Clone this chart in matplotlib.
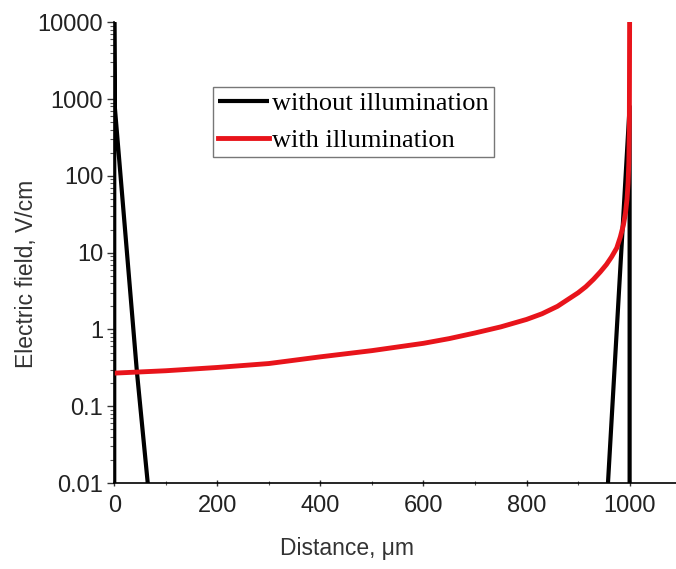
import matplotlib.pyplot as plt
import numpy as np
from matplotlib.ticker import FixedLocator, LogLocator, NullFormatter

# without illumination: two boundary spikes (NaN breaks the line)
dist_dark = [0, 0, 1, 44, 65, np.nan, 958, 1000, 1000]
field_dark = [0.001, 10000, 800, 0.28, 0.01, np.nan, 0.01, 800, 0.001]

# with illumination
dist_light = [0, 100, 200, 300, 400, 500, 600, 650, 700, 750, 800, 830, 860,
              880, 900, 915, 930, 943, 955, 965, 975, 982, 988, 992, 995,
              997, 998.5, 999.5, 1000]
field_light = [0.27, 0.29, 0.32, 0.36, 0.44, 0.53, 0.66, 0.76, 0.9, 1.08,
               1.35, 1.6, 2.0, 2.45, 3.0, 3.6, 4.5, 5.6, 7, 8.8, 11.5, 16,
               23, 33, 50, 80, 150, 500, 10000]

y_ticks = [0.01, 0.1, 1, 10, 100, 1000, 10000]
y_labels = ['0.01', '0.1', '1', '10', '100', '1000', '10000']
x_ticks = [0, 200, 400, 600, 800, 1000]

fig = plt.figure(figsize=(6.76, 5.69), dpi=100)
ax = fig.add_axes([0.169, 0.151, 0.831, 0.81])

ax.plot(dist_dark, field_dark, color='black', lw=3.0,
        label='without illumination', solid_capstyle='butt')
ax.plot(dist_light, field_light, color='#e8141b', lw=3.5,
        label='with illumination')

ax.set_yscale('log')
ax.set_ylim(0.01, 10000)
ax.set_xlim(0, 1090)

ax.set_yticks(y_ticks)
ax.set_yticklabels(y_labels)
ax.yaxis.set_minor_locator(LogLocator(base=10, subs=np.arange(2, 10)))
ax.yaxis.set_minor_formatter(NullFormatter())
ax.set_xticks(x_ticks)
ax.xaxis.set_minor_locator(FixedLocator([100, 300, 500, 700, 900]))

for s in ['top', 'right']:
    ax.spines[s].set_visible(False)
for s in ['left', 'bottom']:
    ax.spines[s].set_linewidth(1.2)

ax.tick_params(axis='both', which='major', labelsize=17, length=5,
               width=1, colors='#333333', labelcolor='#222222')
ax.tick_params(axis='both', which='minor', length=3, width=0.8,
               colors='#555555')
ax.tick_params(axis='x', which='both', direction='inout')
ax.tick_params(axis='x', which='major', pad=6)
ax.tick_params(axis='y', which='major', pad=3)

lab_font = {'family': 'Liberation Sans', 'size': 16.5, 'color': '#333333'}
ax.set_xlabel('Distance, \u03bcm', fontdict=lab_font)
ax.set_ylabel('Electric field, V/cm', fontdict=lab_font)
ax.xaxis.set_label_coords(0.415, -0.118)
ax.yaxis.set_label_coords(-0.135, 0.455)
for t in ax.get_xticklabels() + ax.get_yticklabels():
    t.set_family('Liberation Sans')

leg = ax.legend(loc='upper left', bbox_to_anchor=(0.176, 0.86),
                prop={'family': 'Liberation Serif', 'size': 19},
                frameon=True, fancybox=False, edgecolor='#555555',
                handlelength=1.9, handletextpad=0.15, borderpad=0.2,
                labelspacing=0.5, borderaxespad=0)
leg.get_frame().set_linewidth(1.0)

fig.savefig('out.png', dpi=100)
